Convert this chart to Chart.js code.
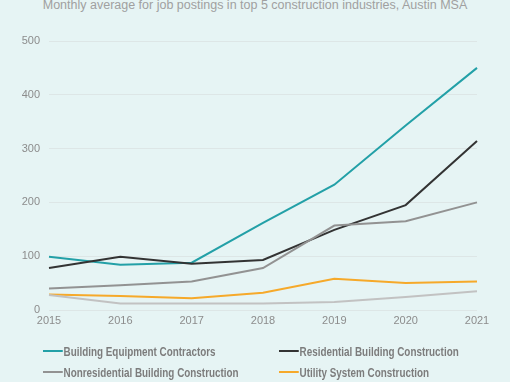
<!DOCTYPE html>
<html><head><meta charset="utf-8">
<script src="https://cdn.jsdelivr.net/npm/chart.js@4"></script>
<style>
html,body{margin:0;padding:0;background:#e6f4f4;width:510px;height:382px;overflow:hidden;}
#wrap{position:relative;width:510px;height:382px;}
#title{position:absolute;left:0;top:-2px;width:510px;text-align:center;font:12.5px "Liberation Sans",Arial,sans-serif;color:#a0a0a0;white-space:nowrap;}
canvas{position:absolute;left:0;top:0;}
.lg{position:absolute;font:bold 13px "Liberation Sans",Arial,sans-serif;color:#7c7c7c;white-space:nowrap;display:flex;align-items:center;transform-origin:0 50%;transform:scaleX(0.76);}
.lg i{display:inline-block;width:26px;height:2px;margin-right:1px;}
</style></head>
<body><div id="wrap">
<div id="title">Monthly average for job postings in top 5 construction industries, Austin MSA</div>
<canvas id="c" width="510" height="382"></canvas>
<div id="legend"></div>
</div>
<script>
const years = ["2015","2016","2017","2018","2019","2020","2021"];
const yTicks = [0,100,200,300,400,500];
const buildingEquipment = [99, 84, 88, 162, 233, 343, 450];
const residentialBuilding = [78, 99, 86, 93, 149, 195, 314];
const nonresidentialBuilding = [40, 46, 53, 78, 157, 165, 200];
const utilitySystem = [29, 26, 22, 32, 58, 50, 53];
const otherConstruction = [28, 12, 12, 12, 15, 24, 35];
const seriesNames = ["Building Equipment Contractors","Residential Building Construction","Nonresidential Building Construction","Utility System Construction"];
const colors = ["#23a0a7","#333333","#929292","#f6a92a","#c2c2c2"];

const ds = [buildingEquipment, residentialBuilding, nonresidentialBuilding, utilitySystem, otherConstruction].map((d,i)=>({
  label: seriesNames[i] || "Other",
  data: d,
  borderColor: colors[i],
  backgroundColor: colors[i],
  borderWidth: 2,
  pointRadius: 0,
  tension: 0,
  fill: false
})).reverse();

new Chart(document.getElementById('c'), {
  type: 'line',
  data: { labels: years, datasets: ds },
  options: {
    responsive: false,
    animation: false,
    layout: { padding: { top: 41, right: 33, bottom: 52, left: 0 } },
    plugins: { legend: { display: false }, title: { display: false }, tooltip: { enabled: false } },
    scales: {
      x: {
        offset: false,
        grid: { display: false, drawTicks: false },
        border: { display: false },
        ticks: { color: '#8c8c8c', font: { family: 'Liberation Sans', size: 11 }, padding: 4, maxRotation: 0 },
        afterFit: s => { s.height = 20; }
      },
      y: {
        min: 0, max: 500,
        grid: { color: '#dde6e6', lineWidth: 1, drawTicks: false },
        border: { display: false },
        afterBuildTicks: s => { s.ticks = yTicks.map(v => ({ value: v })); },
        ticks: { color: '#8c8c8c', font: { family: 'Liberation Sans', size: 11 }, padding: 9 },
        afterFit: s => { s.width = 49; }
      }
    }
  }
});

const pos = [[43,351],[279,351],[43,372],[279,372]];
const lg = document.getElementById('legend');
seriesNames.forEach((n,i)=>{
  const d = document.createElement('div');
  d.className = 'lg';
  d.style.left = pos[i][0] + 'px';
  d.style.top = (pos[i][1] - 8) + 'px';
  d.style.height = '16px';
  d.innerHTML = '<i style="background:' + colors[i] + '"></i>' + n;
  lg.appendChild(d);
});
</script>
</body></html>
